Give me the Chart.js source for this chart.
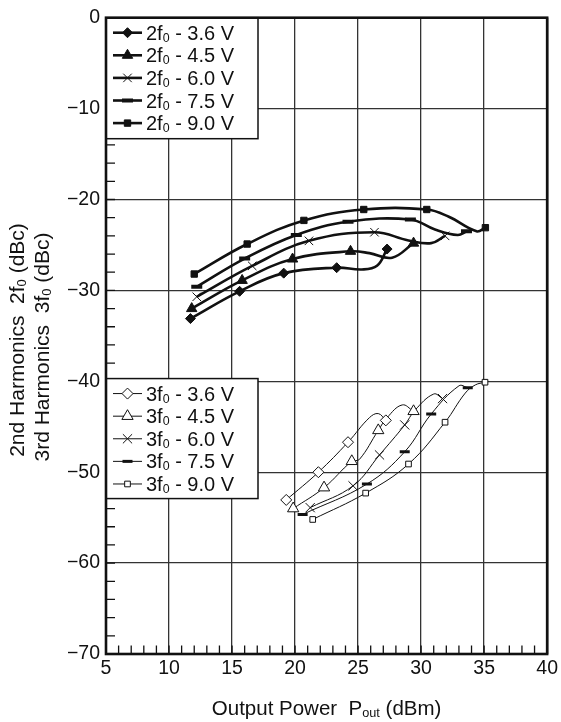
<!DOCTYPE html>
<html>
<head>
<meta charset="utf-8">
<script src="https://cdn.jsdelivr.net/npm/chart.js@4.4.1/dist/chart.umd.min.js"></script>
<style>
  html, body { margin: 0; padding: 0; background: #fff; }
</style>
</head>
<body>
<canvas id="harmonics-chart" width="561" height="722"></canvas>
<script>
// supply voltages, one curve per voltage for each harmonic
const voltages = ['3.6 V', '4.5 V', '6.0 V', '7.5 V', '9.0 V'];

// 2nd harmonic: plotted markers [Pout dBm, dBc]
const h2Marks36 = [[11.7, -33.1], [15.6, -30.1], [19.1, -28.1], [23.3, -27.5], [27.3, -25.45]];
const h2Marks45 = [[11.8, -32.0], [15.8, -28.9], [19.8, -26.55], [24.4, -25.7], [29.4, -24.8]];
const h2Marks60 = [[12.2, -30.7], [16.6, -27.3], [21.1, -24.55], [26.3, -23.6], [31.9, -24.0]];
const h2Marks75 = [[12.2, -29.6], [16.0, -26.5], [20.1, -23.9], [24.2, -22.45], [29.15, -22.2], [33.6, -23.5]];
const h2Marks90 = [[12.0, -28.2], [16.2, -24.9], [20.7, -22.3], [25.45, -21.1], [30.45, -21.1], [35.1, -23.1]];

// 2nd harmonic: points along the drawn curves
const h2Curve36 = [[11.7, -33.1], [15.6, -30.1], [19.1, -28.1], [23.3, -27.5], [25.3, -27.7], [26.5, -27.3], [27.3, -25.45]];
const h2Curve45 = [[11.8, -32.0], [15.8, -28.9], [19.8, -26.55], [24.4, -25.7], [25.9, -25.9], [27.7, -26.4], [29.4, -24.8]];
const h2Curve60 = [[12.2, -30.7], [16.6, -27.3], [21.1, -24.55], [26.3, -23.6], [29.0, -24.5], [30.8, -24.8], [31.9, -24.0]];
const h2Curve75 = [[12.2, -29.6], [16.0, -26.5], [20.1, -23.9], [24.2, -22.45], [29.15, -22.2], [31.1, -23.3], [32.9, -23.9], [33.6, -23.5]];
const h2Curve90 = [[12.0, -28.2], [16.2, -24.9], [20.7, -22.3], [25.45, -21.1], [30.45, -21.1], [32.2, -21.9], [34.4, -23.5], [35.1, -23.1]];

// 3rd harmonic: plotted markers
const h3Marks36 = [[19.3, -53.05], [21.85, -50.0], [24.2, -46.7], [27.2, -44.3]];
const h3Marks45 = [[19.85, -54.0], [22.3, -51.7], [24.5, -48.8], [26.6, -45.4], [29.4, -43.3]];
const h3Marks60 = [[21.2, -53.9], [24.6, -51.5], [26.7, -48.1], [28.7, -44.8], [31.7, -41.9]];
const h3Marks75 = [[20.6, -54.65], [25.7, -51.3], [28.7, -47.75], [30.8, -43.6], [33.7, -40.7]];
const h3Marks90 = [[21.4, -55.2], [25.6, -52.3], [29.0, -49.1], [31.9, -44.5], [35.07, -40.1]];

// 3rd harmonic: points along the drawn curves
const h3Curve36 = [[19.3, -53.05], [21.85, -50.0], [24.2, -46.7], [25.9, -44.0], [26.6, -43.55], [27.2, -44.3]];
const h3Curve45 = [[19.85, -54.0], [22.3, -51.7], [24.5, -48.8], [25.1, -48.6], [26.6, -45.4], [27.3, -44.0], [28.5, -42.6], [29.4, -43.3]];
const h3Curve60 = [[21.2, -53.9], [24.6, -51.5], [26.7, -48.1], [28.7, -44.8], [29.5, -43.2], [31.0, -41.4], [31.7, -41.9]];
const h3Curve75 = [[20.6, -54.65], [25.7, -51.3], [28.7, -47.75], [30.8, -43.6], [33.0, -40.5], [33.7, -40.7]];
const h3Curve90 = [[21.4, -55.2], [25.6, -52.3], [29.0, -49.1], [31.9, -44.5], [33.5, -41.3], [34.3, -40.4], [35.07, -40.1]];

const xMin = 5, xMax = 40, xStep = 5, xMinorStep = 1;
const yMin = -70, yMax = 0, yStep = 10, yMinorStep = 2;

const FONT = '"Liberation Sans", Arial, Helvetica, sans-serif';
const INK = '#111';

const h2Marks = [h2Marks36, h2Marks45, h2Marks60, h2Marks75, h2Marks90];
const h2Curves = [h2Curve36, h2Curve45, h2Curve60, h2Curve75, h2Curve90];
const h3Marks = [h3Marks36, h3Marks45, h3Marks60, h3Marks75, h3Marks90];
const h3Curves = [h3Curve36, h3Curve45, h3Curve60, h3Curve75, h3Curve90];

// marker look per voltage
const h2Style = [
    {pointStyle: 'rectRot', radius: 5, fill: INK, width: 1},
    {pointStyle: 'triangle', radius: 6, fill: INK, width: 1},
    {pointStyle: 'crossRot', radius: 6, fill: INK, width: 1},
    {pointStyle: 'line', radius: 5.5, fill: INK, width: 4},
    {pointStyle: 'rect', radius: 4.5, fill: INK, width: 1}
];
const h3Style = [
    {pointStyle: 'rectRot', radius: 5.5, fill: '#fff', width: 1},
    {pointStyle: 'triangle', radius: 6.5, fill: '#fff', width: 1},
    {pointStyle: 'crossRot', radius: 6.5, fill: '#fff', width: 1},
    {pointStyle: 'line', radius: 5, fill: INK, width: 3},
    {pointStyle: 'rect', radius: 4, fill: '#fff', width: 1}
];

const toXY = arr => arr.map(([x, y]) => ({x, y}));

let datasets = [];
function addFamily(curves, marks, styles, lineWidth, prefix) {
    curves.forEach((curve, i) => {
        datasets.push({
            label: prefix + voltages[i],
            data: toXY(curve),
            showLine: true,
            borderColor: INK,
            borderWidth: lineWidth,
            tension: 0.4,
            pointRadius: 0,
            order: 2
        });
        let s = styles[i];
        datasets.push({
            label: prefix + voltages[i] + ' marks',
            data: toXY(marks[i]),
            showLine: false,
            pointStyle: s.pointStyle,
            pointRadius: s.radius,
            pointBackgroundColor: s.fill,
            pointBorderColor: INK,
            pointBorderWidth: s.width,
            order: 1
        });
    });
}
addFamily(h2Curves, h2Marks, h2Style, 2.6, '2f');
addFamily(h3Curves, h3Marks, h3Style, 1, '3f');

// text with a lowered small part, parts = [[text, isSub], ...]
function textWidth(ctx, parts, size) {
    let w = 0;
    parts.forEach(([t, sub]) => {
        ctx.font = (sub ? size * 0.62 : size) + 'px ' + FONT;
        w += ctx.measureText(t).width;
    });
    return w;
}
function drawParts(ctx, parts, x, y, size) {
    parts.forEach(([t, sub]) => {
        ctx.font = (sub ? size * 0.62 : size) + 'px ' + FONT;
        ctx.fillText(t, x, sub ? y + size * 0.1 : y);
        x += ctx.measureText(t).width;
    });
}

function drawLegendBox(ctx, box) {
    ctx.save();
    ctx.fillStyle = '#fff';
    ctx.fillRect(box.x, box.y, box.w, box.h);
    ctx.strokeStyle = INK;
    ctx.lineWidth = 1.5;
    ctx.strokeRect(box.x, box.y, box.w, box.h);
    ctx.restore();
}
function drawLegendItems(ctx, box, prefix, styles, lineWidth) {
    ctx.save();
    voltages.forEach((v, i) => {
        let y = box.y + 15 + i * 22.6;
        ctx.strokeStyle = INK;
        ctx.lineWidth = lineWidth;
        ctx.beginPath();
        ctx.moveTo(box.x + 7, y);
        ctx.lineTo(box.x + 36, y);
        ctx.stroke();
        let s = styles[i];
        ctx.fillStyle = s.fill;
        ctx.strokeStyle = INK;
        ctx.lineWidth = s.width;
        Chart.helpers.drawPoint(ctx, {pointStyle: s.pointStyle, radius: s.radius, borderWidth: s.width, rotation: 0}, box.x + 21.5, y);
        ctx.fillStyle = INK;
        ctx.textBaseline = 'alphabetic';
        ctx.textAlign = 'left';
        drawParts(ctx, [[prefix, false], ['0', true], [' - ' + v, false]], box.x + 40, y + 7, 20);
    });
    ctx.restore();
}

const frame = {
    id: 'frame',
    beforeDatasetsDraw(chart) {
        const {ctx, chartArea: a, scales: {x, y}} = chart;
        ctx.save();
        // minor ticks, pointing inward
        ctx.strokeStyle = INK;
        ctx.lineWidth = 1.3;
        ctx.beginPath();
        for (let v = xMin + xMinorStep; v < xMax; v += xMinorStep) {
            let px = x.getPixelForValue(v);
            ctx.moveTo(px, a.bottom);
            ctx.lineTo(px, a.bottom - 8.5);
        }
        for (let v = yMin + yMinorStep; v < yMax; v += yMinorStep) {
            let py = y.getPixelForValue(v);
            ctx.moveTo(a.left, py);
            ctx.lineTo(a.left + 9, py);
        }
        ctx.stroke();
        ctx.restore();

        const leg2 = {x: a.left, y: a.top, w: 152, h: 121};
        const leg3 = {x: a.left, y: y.getPixelForValue(-39.7), w: 152, h: 120};
        drawLegendBox(ctx, leg2);
        drawLegendBox(ctx, leg3);

        ctx.save();
        ctx.strokeStyle = INK;
        ctx.lineWidth = 2.6;
        ctx.strokeRect(a.left, a.top, a.right - a.left, a.bottom - a.top);
        ctx.restore();

        drawLegendItems(ctx, leg2, '2f', h2Style, 2.6);
        drawLegendItems(ctx, leg3, '3f', h3Style, 1);

        // axis titles
        ctx.save();
        ctx.fillStyle = INK;
        ctx.textBaseline = 'alphabetic';
        let xt = [['Output Power  P', false], ['out', true], [' (dBm)', false]];
        let w = textWidth(ctx, xt, 20.5);
        drawParts(ctx, xt, (a.left + a.right) / 2 - w / 2, 715, 20.5);

        ctx.translate(0, 340);
        ctx.rotate(-Math.PI / 2);
        let y1 = [['2nd Harmonics  2f', false], ['0', true], [' (dBc)', false]];
        let y2 = [['3rd Harmonics  3f', false], ['0', true], [' (dBc)', false]];
        let w1 = textWidth(ctx, y1, 21);
        let w2 = textWidth(ctx, y2, 21);
        drawParts(ctx, y1, -w1 / 2, 24, 21);
        drawParts(ctx, y2, -w2 / 2 - 7, 49, 21);
        ctx.restore();
    }
};

new Chart(document.getElementById('harmonics-chart'), {
    type: 'scatter',
    data: {datasets},
    plugins: [frame],
    options: {
        responsive: false,
        animation: false,
        events: [],
        layout: {padding: {top: 15, right: 12, left: 0, bottom: 0}},
        plugins: {legend: {display: false}, tooltip: {enabled: false}},
        scales: {
            x: {
                type: 'linear',
                min: xMin, max: xMax,
                afterFit: s => { s.height = 68; },
                afterBuildTicks: s => { s.ticks = []; for (let v = xMin; v <= xMax; v += xStep) s.ticks.push({value: v}); },
                grid: {color: '#333', lineWidth: 1.3, drawTicks: false},
                border: {display: false},
                ticks: {color: INK, font: {family: FONT, size: 19.5}, padding: 3, maxRotation: 0, autoSkip: false}
            },
            y: {
                type: 'linear',
                min: yMin, max: yMax,
                afterFit: s => { s.width = 106; },
                afterBuildTicks: s => { s.ticks = []; for (let v = yMin; v <= yMax; v += yStep) s.ticks.push({value: v}); },
                grid: {color: '#333', lineWidth: 1.3, drawTicks: false},
                border: {display: false},
                ticks: {
                    color: INK, font: {family: FONT, size: 19.5}, padding: 6, autoSkip: false,
                    callback: v => v < 0 ? '\u2212' + Math.abs(v) : String(v)
                }
            }
        }
    }
});
</script>
</body>
</html>
